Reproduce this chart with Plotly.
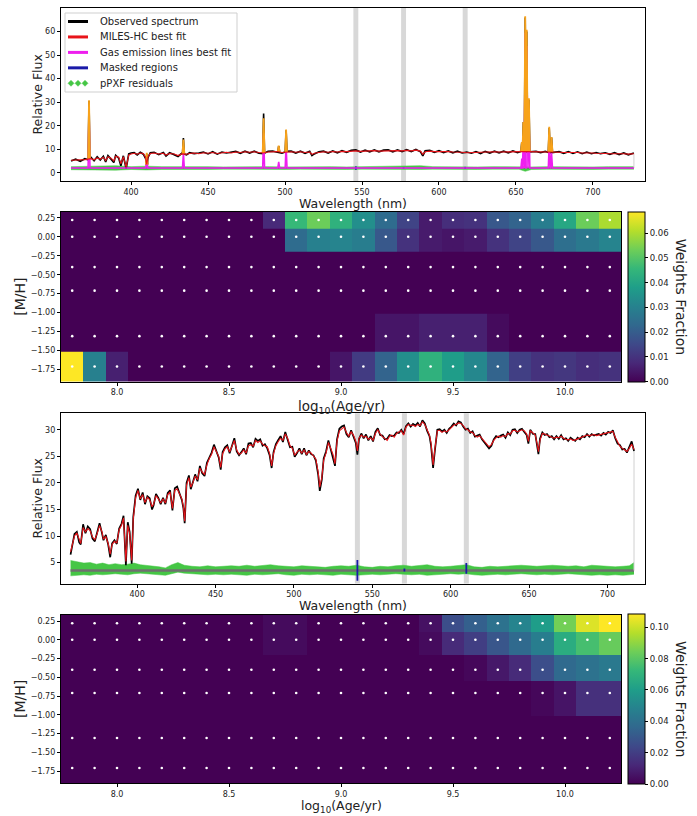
import plotly.graph_objects as go

W, H = 697, 816
FONT = "DejaVu Sans"

# ---------------- upper spectrum: emission-line galaxy ----------------
wl1 = [361, 364, 367, 370, 372, 374, 376, 378, 380, 382,
       383.5, 385, 387, 388.8, 390, 392, 393.4, 395, 396.8, 398.5,
       400, 402, 404, 406, 408, 409.5, 410.2, 411, 412.5, 415,
       418, 421, 422.7, 425, 428, 430.5, 433, 436, 438, 441,
       444, 447, 450, 453, 456, 459, 462, 465, 468, 471,
       474, 477, 480, 483, 486, 489, 492, 495, 498, 501,
       504, 507, 510, 513, 516, 517.5, 519, 522, 525, 528,
       531, 534, 537, 540, 543, 546, 549, 552, 555, 558,
       561, 564, 567, 570, 573, 576, 579, 582, 585, 588,
       589.5, 591, 594, 597, 600, 603, 606, 609, 612, 615,
       618, 621, 624, 627, 630, 633, 636, 639, 642, 645,
       648, 651, 654, 657, 660, 663, 666, 669, 672, 675,
       678, 681, 684, 687, 690, 693, 696, 699, 702, 705,
       708, 711, 714, 717, 720, 723, 726.6]
fit1 = [5.3, 5.4, 5.2, 5.6, 5.8, 6.0, 5.5, 6.3, 5.8, 6.6,
        5.2, 6.8, 6.2, 5.0, 7.0, 6.6, 3.8, 6.8, 2.4, 7.6,
        8.0, 8.3, 7.9, 8.4, 8.2, 6.5, 3.5, 6.8, 8.2, 8.4,
        8.0, 8.3, 7.5, 8.2, 8.0, 7.3, 8.0, 7.9, 8.2, 8.4,
        8.1, 8.5, 8.3, 8.6, 8.2, 8.5, 8.7, 8.4, 8.8, 8.6,
        8.9, 8.7, 8.9, 8.6, 8.4, 8.8, 8.9, 9.0, 8.6, 8.8,
        8.9, 8.7, 8.9, 8.6, 8.8, 7.8, 8.3, 8.6, 8.9, 8.7,
        9.0, 8.8, 9.1, 9.0, 9.2, 9.3, 9.1, 9.3, 9.2, 9.4,
        9.2, 9.3, 9.4, 9.2, 9.4, 9.3, 9.5, 9.3, 9.6, 9.2,
        7.8, 8.9, 9.2, 9.0, 9.1, 8.9, 9.0, 8.8, 8.9, 8.7,
        8.5, 8.6, 8.7, 8.5, 8.8, 8.7, 8.9, 8.8, 8.9, 8.8,
        9.0, 8.9, 9.0, 9.0, 9.0, 8.8, 8.9, 8.8, 8.8, 8.9,
        8.7, 8.6, 8.7, 8.5, 8.6, 8.4, 8.5, 8.4, 8.3, 8.4,
        8.2, 8.1, 8.2, 8.0, 8.1, 7.9, 8.1]
obs1 = [5.0, 5.8, 4.9, 6.0, 5.5, 6.5, 5.1, 6.8, 5.4, 7.0,
        4.6, 7.3, 5.8, 4.4, 7.4, 6.2, 3.0, 7.2, 1.8, 8.0,
        8.4, 8.6, 7.6, 8.7, 7.9, 6.0, 3.0, 6.5, 8.5, 8.7,
        7.7, 8.6, 7.1, 8.5, 7.7, 6.9, 8.3, 7.6, 8.5, 8.1,
        8.4, 8.8, 8.0, 8.9, 7.9, 8.8, 8.4, 8.7, 9.1, 8.3,
        9.2, 8.4, 9.2, 8.3, 8.1, 9.1, 9.2, 8.7, 8.3, 9.1,
        9.2, 8.4, 9.2, 8.3, 9.1, 7.3, 8.0, 8.9, 9.2, 8.4,
        9.3, 8.5, 9.4, 8.7, 9.5, 9.7, 8.8, 9.6, 8.9, 9.7,
        8.9, 9.6, 9.7, 8.9, 9.7, 9.0, 9.8, 9.0, 9.9, 8.9,
        7.2, 9.3, 9.5, 8.7, 9.4, 8.6, 9.3, 8.5, 9.2, 8.4,
        8.8, 8.3, 9.0, 8.2, 9.1, 8.4, 9.2, 8.5, 9.2, 8.5,
        9.3, 8.6, 9.3, 8.8, 8.8, 9.1, 8.6, 9.1, 8.5, 8.6,
        9.0, 8.3, 9.0, 8.2, 8.9, 8.1, 8.8, 8.1, 8.6, 8.1,
        8.5, 7.8, 8.5, 7.7, 8.4, 7.6, 8.4]

# emission lines: centre (nm), stellar level under the line, gas flux, observed peak
line1_wl = [372.7, 410.2, 434.0, 486.1, 495.9, 500.7,
            653.8, 654.8, 656.0, 657.0, 658.4, 671.6, 673.1]
line1_cont = [5.8, 3.5, 8.0, 8.4, 8.9, 8.8,
              9.0, 9.0, 9.0, 9.0, 9.0, 8.8, 8.8]
line1_gas = [25.0, 5.0, 6.1, 14.8, 2.6, 9.6,
             4.0, 12.6, 57.5, 51.8, 22.6, 10.7, 6.4]
line1_obs = [30.5, 8.0, 14.8, 25.2, 11.3, 18.0,
             13.0, 21.6, 66.0, 60.0, 31.0, 19.0, 15.0]

res1_base = 2.0
res1_wl = [361, 370, 380, 390, 400, 410, 420, 430, 440, 450,
           460, 470, 480, 490, 500, 510, 520, 530, 540, 550,
           560, 570, 580, 588, 596, 605, 615, 625, 635, 645,
           652, 656, 660, 670, 680, 690, 700, 710, 720, 726.6]
res1_hi = [2.6, 2.7, 3.1, 3.0, 2.6, 2.8, 2.6, 2.7, 2.5, 2.6,
           2.5, 2.6, 2.5, 2.6, 2.5, 2.6, 2.5, 2.6, 2.5, 2.6,
           2.5, 2.6, 2.7, 3.0, 2.6, 2.5, 2.6, 2.5, 2.6, 2.5,
           2.6, 2.7, 2.5, 2.6, 2.5, 2.6, 2.5, 2.6, 2.5, 2.6]
res1_lo = [1.3, 1.2, 1.0, 1.1, 1.4, 1.2, 1.4, 1.3, 1.5, 1.4,
           1.5, 1.4, 1.5, 1.3, 1.4, 1.5, 1.4, 1.5, 1.4, 1.5,
           1.4, 1.5, 1.4, 1.4, 1.5, 1.4, 1.5, 1.4, 1.5, 1.4,
           1.5, 0.6, 1.4, 1.5, 1.4, 1.5, 1.4, 1.5, 1.4, 1.5]

mask1_wl = [546.0, 577.0, 617.0]
mask1_lo = [1.3, 1.7, 1.6]
mask1_hi = [2.7, 2.4, 2.5]

# ---------------- lower spectrum: old stellar population ----------------
wl3 = [357.5, 358.5, 360, 361.5, 363, 364, 365.5, 367, 368.5, 370,
       371.5, 373, 374.5, 376, 377.5, 378.5, 380, 381.5, 382.8, 384,
       385.5, 387, 388.5, 390, 391.3, 392.8, 394, 395.2, 396.5, 397.5,
       399, 400.5, 402, 403.5, 405, 406.5, 408, 409.5, 410.5, 412,
       413.5, 415, 416.5, 418, 419.5, 421, 422.5, 424, 425.5, 427,
       428.5, 429.5, 430.3, 431.5, 433, 434.2, 435.5, 437, 438.5, 440,
       441.5, 443, 444.5, 446, 447.5, 449, 450.5, 452, 453.3, 454.5,
       456, 457.5, 459, 460.5, 462, 463.5, 465, 466.5, 468, 469.5,
       471, 472.5, 474, 475.5, 477, 478.5, 480, 481.5, 483, 484.5,
       485.8, 487, 488.5, 490, 491.5, 493, 494.5, 496, 497.5, 499,
       500.5, 502, 503.5, 505, 506.5, 508, 509.5, 511, 512.5, 514,
       515.5, 516.5, 517.8, 519, 520.5, 522, 523.5, 525, 526.2, 527.5,
       529, 530.5, 532, 533.5, 535, 536.5, 538, 539.5, 540.5, 541.5,
       543, 544.5, 546, 547.5, 549, 550.5, 552, 553.5, 555, 556.5,
       558, 559.5, 561, 562.5, 564, 565.5, 567, 568.5, 570, 571.5,
       573, 574.5, 576, 577.5, 579, 580.5, 582, 583.5, 585, 586.5,
       587.5, 588.8, 590, 591.5, 593, 594.5, 596, 597.5, 599, 600.5,
       602, 603.5, 605, 606.5, 608, 609.5, 611, 612.5, 614, 615.5,
       617, 618.5, 620, 621.5, 623, 624.5, 626, 627.5, 629, 630.5,
       632, 633.5, 635, 636.5, 638, 639.5, 641, 642.5, 644, 645.5,
       647, 648.5, 649.6, 650.8, 652.5, 654, 655, 656, 657, 658.5,
       660, 661.5, 663, 664.5, 666, 667.5, 669, 670.5, 672, 673.5,
       675, 676.5, 678, 679.5, 681, 682.5, 684, 685.5, 687, 688.5,
       690, 691.5, 693, 694.5, 696, 697.5, 699, 700.5, 702, 703.5,
       705, 706.5, 708, 709.5, 711, 712.5, 714, 715.5, 717]
fit3 = [7.0, 8.2, 10.0, 10.6, 9.2, 8.6, 11.6, 10.8, 11.4, 11.0,
        9.8, 9.3, 10.5, 12.0, 10.8, 9.4, 9.9, 8.6, 6.6, 8.4,
        9.0, 8.7, 11.2, 12.0, 13.4, 5.2, 12.0, 10.5, 5.4, 13.2,
        17.2, 18.6, 17.0, 17.8, 16.3, 17.3, 16.8, 15.5, 16.0, 17.6,
        17.0, 16.2, 17.0, 16.2, 17.8, 18.3, 15.2, 18.6, 18.9, 18.0,
        17.0, 15.5, 12.8, 19.6, 21.0, 19.2, 20.0, 21.3, 20.6, 22.8,
        22.0, 21.6, 23.4, 24.6, 25.4, 26.8, 26.0, 25.0, 22.9, 25.5,
        26.4, 26.8, 25.8, 26.8, 28.0, 26.2, 25.4, 25.6, 26.2, 25.6,
        27.0, 27.2, 26.9, 28.0, 27.6, 27.9, 27.3, 27.0, 26.8, 25.5,
        23.2, 25.5, 27.0, 27.8, 28.4, 28.0, 29.2, 28.4, 27.0, 26.5,
        25.2, 25.8, 26.2, 25.6, 26.2, 25.4, 25.9, 25.6, 25.0, 24.5,
        22.0, 19.2, 21.0, 24.3, 25.6, 27.6, 26.5, 25.3, 23.6, 27.8,
        29.8, 30.2, 30.5, 29.5, 28.8, 29.6, 29.0, 27.8, 26.0, 28.4,
        29.0, 28.6, 28.8, 28.2, 28.5, 28.0, 29.3, 30.0, 29.2, 28.7,
        28.4, 28.0, 28.8, 29.0, 28.6, 29.3, 29.6, 29.8, 29.0, 30.5,
        31.0, 30.8, 30.9, 30.6, 31.0, 30.8, 31.5, 31.0, 30.0, 29.0,
        27.5, 23.4, 26.5, 29.8, 29.9, 29.5, 29.8, 29.6, 30.0, 30.4,
        30.9, 31.0, 31.3, 31.2, 30.8, 30.2, 30.0, 29.6, 29.5, 28.9,
        28.6, 28.9, 28.4, 27.8, 27.3, 26.8, 27.2, 28.0, 28.5, 28.8,
        28.6, 28.9, 28.7, 29.3, 29.2, 29.8, 29.9, 29.6, 29.8, 30.0,
        29.8, 29.2, 27.8, 29.8, 29.4, 29.0, 27.6, 25.9, 28.0, 29.3,
        29.2, 29.0, 28.8, 28.6, 28.4, 28.6, 28.5, 28.8, 28.4, 28.2,
        28.1, 28.3, 28.0, 28.1, 28.3, 28.4, 28.6, 28.8, 29.0, 28.9,
        29.0, 29.1, 28.9, 29.0, 29.1, 29.2, 29.3, 29.4, 29.6, 29.7,
        28.6, 27.6, 26.9, 26.5, 26.2, 25.9, 26.5, 27.3, 26.3]
obs3 = [6.5, 8.0, 10.4, 10.8, 8.8, 8.4, 12.2, 10.5, 11.8, 11.3,
        9.5, 9.0, 10.8, 12.4, 10.6, 9.2, 10.2, 8.4, 6.0, 8.6,
        9.2, 8.5, 11.4, 12.3, 13.8, 4.5, 12.6, 10.8, 4.8, 13.6,
        17.6, 18.9, 16.8, 18.2, 16.0, 17.5, 17.1, 15.0, 15.8, 17.9,
        17.2, 16.0, 17.2, 16.0, 18.1, 18.6, 14.8, 19.0, 19.3, 18.2,
        16.8, 15.2, 12.4, 20.0, 21.4, 18.8, 20.2, 21.6, 20.3, 23.2,
        21.8, 21.3, 23.8, 24.9, 25.7, 27.2, 25.8, 24.8, 22.5, 25.8,
        26.7, 27.1, 25.6, 27.0, 28.4, 25.9, 25.2, 25.8, 26.5, 25.4,
        27.4, 27.5, 26.7, 28.3, 27.9, 28.2, 27.0, 27.3, 26.5, 25.2,
        22.8, 25.8, 27.3, 28.1, 28.8, 27.7, 29.6, 28.1, 26.7, 26.8,
        24.9, 25.6, 26.5, 25.4, 26.5, 25.2, 26.1, 25.4, 25.2, 24.2,
        21.5, 18.5, 20.6, 24.6, 25.9, 28.0, 26.3, 25.0, 23.2, 28.2,
        30.2, 30.6, 30.8, 29.2, 28.6, 29.9, 28.8, 27.5, 25.3, 28.2,
        29.3, 28.4, 29.1, 28.0, 28.8, 27.8, 29.6, 30.3, 29.0, 28.9,
        28.2, 28.3, 29.0, 28.8, 28.9, 29.5, 29.4, 30.0, 29.2, 30.7,
        31.2, 30.6, 31.1, 30.8, 31.3, 30.6, 31.8, 31.2, 29.8, 28.8,
        27.0, 22.8, 26.2, 30.0, 30.1, 29.7, 30.0, 29.4, 30.2, 30.6,
        31.2, 30.8, 31.6, 31.4, 30.6, 30.0, 30.2, 29.4, 29.7, 28.7,
        28.9, 29.1, 28.2, 27.6, 27.1, 26.5, 27.0, 28.2, 28.8, 28.6,
        28.9, 29.1, 28.5, 29.5, 29.0, 30.0, 30.1, 29.4, 30.0, 30.2,
        29.6, 29.0, 27.4, 30.0, 29.2, 29.2, 27.3, 25.4, 28.3, 29.5,
        29.0, 29.2, 28.6, 28.8, 28.2, 28.8, 28.3, 29.0, 28.2, 28.4,
        27.9, 28.5, 28.2, 27.9, 28.5, 28.2, 28.8, 28.6, 29.2, 28.7,
        29.2, 28.9, 29.1, 29.2, 28.9, 29.4, 29.1, 29.6, 29.4, 29.9,
        28.4, 27.4, 27.1, 26.3, 26.4, 25.7, 26.8, 27.8, 26.0]

res3_base = 3.5
res3_wl = [357.5, 362, 366, 370, 374, 378, 382, 386, 390, 394,
           398, 402, 406, 410, 414, 418, 422, 426, 430, 435,
           440, 445, 450, 455, 460, 465, 470, 475, 480, 485,
           490, 495, 500, 505, 510, 515, 520, 525, 530, 535,
           540, 545, 550, 555, 560, 565, 570, 575, 580, 585,
           590, 595, 600, 605, 610, 615, 620, 625, 630, 635,
           640, 645, 650, 655, 660, 665, 670, 675, 680, 685,
           690, 695, 700, 705, 710, 714, 717]
res3_hi = [5.4, 5.2, 4.9, 5.0, 4.7, 4.9, 4.6, 4.8, 4.6, 4.7,
           4.9, 4.6, 4.5, 4.4, 4.2, 4.0, 4.6, 5.0, 4.5, 4.3,
           4.2, 4.4, 4.2, 4.3, 4.4, 4.3, 4.5, 4.3, 4.4, 4.6,
           4.4, 4.3, 4.2, 4.4, 4.3, 4.2, 4.1, 4.3, 4.4, 4.3,
           4.5, 4.2, 4.1, 4.3, 4.2, 4.4, 4.5, 4.3, 4.4, 4.6,
           4.3, 4.2, 4.3, 4.4, 4.6, 4.2, 4.1, 4.3, 4.2, 4.3,
           4.4, 4.5, 4.4, 4.3, 4.4, 4.5, 4.4, 4.3, 4.4, 4.2,
           4.5, 4.4, 4.3, 4.2, 4.3, 4.4, 5.0]
res3_lo = [2.5, 2.6, 2.7, 2.6, 2.8, 2.7, 2.8, 2.9, 2.8, 2.7,
           2.9, 3.0, 2.9, 2.8, 2.7, 2.6, 2.9, 3.2, 3.0, 2.9,
           2.8, 2.7, 2.8, 2.7, 2.8, 2.7, 2.6, 2.8, 2.7, 2.8,
           2.9, 2.7, 2.6, 2.8, 2.7, 2.8, 2.7, 2.6, 2.8, 2.7,
           2.6, 2.7, 2.8, 2.7, 2.8, 2.9, 2.8, 2.7, 2.8, 2.6,
           2.7, 2.8, 2.9, 2.8, 2.9, 2.7, 2.6, 2.7, 2.8, 2.7,
           2.8, 2.9, 2.8, 2.7, 2.8, 2.7, 2.8, 2.9, 2.8, 2.7,
           2.6, 2.7, 2.6, 2.7, 2.6, 2.7, 2.8]

mask3_wl = [540.5, 570.5, 610.0]
mask3_lo = [1.6, 3.3, 2.9]
mask3_hi = [5.5, 3.9, 4.9]

band1_wl = [546.0, 577.0, 617.0]
band3_wl = [540.5, 570.5, 610.0]
band_width = 3.2

# ---------------- weight maps ----------------
ages = [7.8, 7.9, 8.0, 8.1, 8.2, 8.3, 8.4, 8.5, 8.6, 8.7, 8.8, 8.9, 9.0,
        9.1, 9.2, 9.3, 9.4, 9.5, 9.6, 9.7, 9.8, 9.9, 10.0, 10.1, 10.2]
metals = [0.22, 0.0, -0.40, -0.71, -1.31, -1.71]

weights1 = [
    [0, 0, 0, 0, 0, 0, 0, 0, 0, 0.008, 0.046, 0.053, 0.044,
     0.034, 0.024, 0.014, 0.005, 0.009, 0.010, 0.019, 0.022, 0.029, 0.041, 0.053, 0.060],
    [0, 0, 0, 0, 0, 0, 0, 0, 0, 0, 0.024, 0.030, 0.031,
     0.029, 0.019, 0.010, 0.005, 0.004, 0.005, 0.010, 0.014, 0.019, 0.025, 0.028, 0.031],
    [0] * 25,
    [0] * 25,
    [0, 0, 0, 0, 0, 0, 0, 0, 0, 0, 0, 0, 0,
     0, 0.004, 0.004, 0.006, 0.006, 0.006, 0.002, 0, 0, 0, 0, 0],
    [0.0687, 0.030, 0.006, 0, 0, 0, 0, 0, 0, 0, 0, 0, 0.004,
     0.012, 0.022, 0.034, 0.044, 0.038, 0.032, 0.022, 0.013, 0.010, 0.011, 0.009, 0.010],
]
weights2 = [
    [0, 0, 0, 0, 0, 0, 0, 0, 0, 0.003, 0.003, 0, 0,
     0, 0, 0, 0.005, 0.026, 0.033, 0.041, 0.049, 0.060, 0.085, 0.103, 0.1085],
    [0, 0, 0, 0, 0, 0, 0, 0, 0, 0.003, 0.003, 0, 0,
     0, 0, 0, 0.003, 0.013, 0.020, 0.029, 0.037, 0.046, 0.067, 0.076, 0.083],
    [0, 0, 0, 0, 0, 0, 0, 0, 0, 0, 0, 0, 0,
     0, 0, 0, 0, 0, 0.002, 0.007, 0.013, 0.026, 0.037, 0.041, 0.044],
    [0, 0, 0, 0, 0, 0, 0, 0, 0, 0, 0, 0, 0,
     0, 0, 0, 0, 0, 0, 0, 0, 0.002, 0.006, 0.015, 0.015],
    [0] * 25,
    [0] * 25,
]

wl_ticks = [400, 450, 500, 550, 600, 650, 700]
flux1_ticks = [0, 10, 20, 30, 40, 50, 60]
flux3_ticks = [5, 10, 15, 20, 25, 30]
age_ticks = [8.0, 8.5, 9.0, 9.5, 10.0]
age_ticktext = ["8.0", "8.5", "9.0", "9.5", "10.0"]
mh_ticks = [0.25, 0.0, -0.25, -0.5, -0.75, -1.0, -1.25, -1.5, -1.75]
mh_ticktext = ["0.25", "0.00", "\u22120.25", "\u22120.50", "\u22120.75",
               "\u22121.00", "\u22121.25", "\u22121.50", "\u22121.75"]
cb1_ticks = [0.0, 0.01, 0.02, 0.03, 0.04, 0.05, 0.06]
cb2_ticks = [0.0, 0.02, 0.04, 0.06, 0.08, 0.10]

# colours
C_OBS = "black"
C_FIT = "#e8141a"
C_TOT = "#f7a21b"
C_GAS = "#ee1fee"
C_MASK = "#1a1aa8"
C_RES = "#45c645"
C_BASE = "#6f6f6f"
C_BAND = "#d8d8d8"


def px_x(p):
    return p / W


def px_y(p):
    return 1 - p / H


def spikes(centres, bases, tops, half=0.6):
    xs, ys = [], []
    for c, b, t in zip(centres, bases, tops):
        xs += [c - half, c, c + half, None]
        ys += [b, t, b, None]
    return xs, ys


def segments(xpos, lo, hi):
    xs, ys = [], []
    for c, a, b in zip(xpos, lo, hi):
        xs += [c, c, None]
        ys += [a, b, None]
    return xs, ys


fig = go.Figure()


def add_spectrum(xa, ya, wl, fit, obs, res_wl, res_lo, res_hi, base,
                 mask_wl, mask_lo, mask_hi, lines=None):
    # residual band and baseline
    fig.add_trace(go.Scatter(x=res_wl, y=res_lo, mode="lines", line=dict(color=C_RES, width=0.5),
                             xaxis=xa, yaxis=ya, hoverinfo="skip"))
    fig.add_trace(go.Scatter(x=res_wl, y=res_hi, mode="lines", line=dict(color=C_RES, width=0.5),
                             fill="tonexty", fillcolor=C_RES, xaxis=xa, yaxis=ya, hoverinfo="skip"))
    fig.add_trace(go.Scatter(x=[wl[0], wl[-1]], y=[base, base], mode="lines",
                             line=dict(color=C_BASE, width=2.4 if base > 3 else 1.0),
                             xaxis=xa, yaxis=ya, hoverinfo="skip"))
    mx, my = segments(mask_wl, mask_lo, mask_hi)
    fig.add_trace(go.Scatter(x=mx, y=my, mode="lines", line=dict(color=C_MASK, width=1.8),
                             xaxis=xa, yaxis=ya, hoverinfo="skip"))
    # thin marker at the end of the fitted range
    fig.add_trace(go.Scatter(x=[wl[-1], wl[-1]], y=[base, fit[-1]], mode="lines",
                             line=dict(color="#d0d0d0", width=1), xaxis=xa, yaxis=ya,
                             hoverinfo="skip"))
    # observed spectrum
    fig.add_trace(go.Scatter(x=wl, y=obs, mode="lines", line=dict(color=C_OBS, width=1.7),
                             xaxis=xa, yaxis=ya, hoverinfo="skip"))
    if lines is not None:
        lwl, lcont, lgas, lobs = lines
        ox, oy = spikes(lwl, lcont, lobs)
        fig.add_trace(go.Scatter(x=ox, y=oy, mode="lines", line=dict(color=C_OBS, width=1.6),
                                 xaxis=xa, yaxis=ya, hoverinfo="skip"))
        gx, gy = [wl[0]], [base]
        for c, g in zip(lwl, lgas):
            gx += [c - 0.6, c, c + 0.6]
            gy += [base, base + g, base]
        gx.append(wl[-1])
        gy.append(base)
        fig.add_trace(go.Scatter(x=gx, y=gy, mode="lines", line=dict(color=C_GAS, width=1.6),
                                 xaxis=xa, yaxis=ya, hoverinfo="skip"))
        tops = [c + g for c, g in zip(lcont, lgas)]
        tx, ty = spikes(lwl, lcont, tops)
        fig.add_trace(go.Scatter(x=tx, y=ty, mode="lines", line=dict(color=C_TOT, width=1.8),
                                 xaxis=xa, yaxis=ya, hoverinfo="skip"))
    # stellar best fit
    fig.add_trace(go.Scatter(x=wl, y=fit, mode="lines", line=dict(color=C_FIT, width=1.1),
                             xaxis=xa, yaxis=ya, hoverinfo="skip"))


add_spectrum("x", "y", wl1, fit1, obs1, res1_wl, res1_lo, res1_hi, res1_base,
             mask1_wl, mask1_lo, mask1_hi,
             lines=(line1_wl, line1_cont, line1_gas, line1_obs))
add_spectrum("x3", "y3", wl3, fit3, obs3, res3_wl, res3_lo, res3_hi, res3_base,
             mask3_wl, mask3_lo, mask3_hi)


def add_weights(xa, ya, z, zmax, cb_ticks, cb_center_px):
    fig.add_trace(go.Heatmap(
        x=ages, y=metals, z=z, zmin=0, zmax=zmax, colorscale="Viridis",
        xaxis=xa, yaxis=ya, hoverinfo="skip",
        colorbar=dict(
            x=px_x(628), xanchor="left", xpad=0,
            y=px_y(cb_center_px), yanchor="middle", ypad=0,
            len=170 / H, lenmode="fraction", thickness=17, thicknessmode="pixels",
            outlinecolor="black", outlinewidth=1,
            tickvals=cb_ticks, ticktext=["%.2f" % v for v in cb_ticks],
            ticks="outside", ticklen=3, tickcolor="black",
            tickfont=dict(family=FONT, size=8.5, color="#222"),
        ),
    ))
    dx = [a for m in metals for a in ages]
    dy = [m for m in metals for a in ages]
    fig.add_trace(go.Scatter(x=dx, y=dy, mode="markers",
                             marker=dict(color="white", size=2.6, line=dict(width=0)),
                             xaxis=xa, yaxis=ya, hoverinfo="skip"))


add_weights("x2", "y2", weights1, 0.0687, cb1_ticks, 296.7)
add_weights("x4", "y4", weights2, 0.1085, cb2_ticks, 699.0)

axis_common = dict(showline=True, mirror=True, linecolor="black", linewidth=1.2,
                   ticks="outside", ticklen=3, tickwidth=1, tickcolor="black",
                   showgrid=False, zeroline=False,
                   tickfont=dict(family=FONT, size=8, color="#222"))

spec_dom_x = [px_x(61), px_x(645)]
map_dom_x = [px_x(61), px_x(621)]

fig.update_layout(
    width=W, height=H, margin=dict(l=0, r=0, t=0, b=0),
    paper_bgcolor="white", plot_bgcolor="white", showlegend=False,
    font=dict(family=FONT, color="#222"),
    xaxis=dict(domain=spec_dom_x, range=[354.5, 733.8], tickvals=wl_ticks, anchor="y", **axis_common),
    yaxis=dict(domain=[px_y(181), px_y(8)], range=[-3.5, 70], tickvals=flux1_ticks, anchor="x", **axis_common),
    xaxis2=dict(domain=map_dom_x, range=[7.75, 10.25], tickvals=age_ticks, ticktext=age_ticktext,
                anchor="y2", **axis_common),
    yaxis2=dict(domain=[px_y(381.7), px_y(211.7)], range=[-1.91, 0.33], tickvals=mh_ticks,
                ticktext=mh_ticktext, anchor="x2", **axis_common),
    xaxis3=dict(domain=spec_dom_x, range=[351.4, 724.0], tickvals=wl_ticks, anchor="y3", **axis_common),
    yaxis3=dict(domain=[px_y(583.5), px_y(413.3)], range=[1.06, 33.1], tickvals=flux3_ticks,
                anchor="x3", **axis_common),
    xaxis4=dict(domain=map_dom_x, range=[7.75, 10.25], tickvals=age_ticks, ticktext=age_ticktext,
                anchor="y4", **axis_common),
    yaxis4=dict(domain=[px_y(783.0), px_y(615.0)], range=[-1.91, 0.33], tickvals=mh_ticks,
                ticktext=mh_ticktext, anchor="x4", **axis_common),
)

# masked wavelength bands
shapes = []
for xa, ya, bands in (("x", "y", band1_wl), ("x3", "y3", band3_wl)):
    for b in bands:
        shapes.append(dict(type="rect", xref=xa, yref=ya + " domain",
                           x0=b - band_width / 2, x1=b + band_width / 2, y0=0, y1=1,
                           fillcolor=C_BAND, line=dict(width=0), layer="below"))

# legend of the upper spectrum
shapes.append(dict(type="rect", xref="paper", yref="paper",
                   x0=px_x(65), x1=px_x(237), y0=px_y(92), y1=px_y(13),
                   fillcolor="rgba(255,255,255,0.9)", line=dict(color="#cfcfcf", width=1),
                   layer="above"))
legend_items = [("Observed spectrum", C_OBS), ("MILES-HC best fit", C_FIT),
                ("Gas emission lines best fit", C_GAS), ("Masked regions", C_MASK),
                ("pPXF residuals", C_RES)]
annotations = []
for i, (label, col) in enumerate(legend_items):
    yc = 21.5 + 15.45 * i
    if i < 4:
        shapes.append(dict(type="line", xref="paper", yref="paper",
                           x0=px_x(68), x1=px_x(88), y0=px_y(yc), y1=px_y(yc),
                           line=dict(color=col, width=3), layer="above"))
    else:
        for cx in (71, 78, 85):
            d = 3.0
            path = "M {} {} L {} {} L {} {} L {} {} Z".format(
                px_x(cx - d), px_y(yc), px_x(cx), px_y(yc - d),
                px_x(cx + d), px_y(yc), px_x(cx), px_y(yc + d))
            shapes.append(dict(type="path", xref="paper", yref="paper", path=path,
                               fillcolor=col, line=dict(color=col, width=0.5), layer="above"))
    annotations.append(dict(text=label, xref="paper", yref="paper", x=px_x(97.5), y=px_y(yc),
                            xanchor="left", yanchor="middle", showarrow=False,
                            font=dict(family=FONT, size=10, color="#222")))


# axis titles
def label(text, xp, yp, size, angle=0):
    annotations.append(dict(text=text, xref="paper", yref="paper", x=px_x(xp), y=px_y(yp),
                            xanchor="center", yanchor="middle", showarrow=False, textangle=angle,
                            borderpad=0, font=dict(family=FONT, size=size, color="#222")))


label("Wavelength (nm)", 353, 203.5, 12.5)
label("Relative Flux", 37, 94.5, 12.5, -90)
label("log<sub>10</sub>(Age/yr)", 341, 406.5, 13.5)
label("[M/H]", 20, 296.7, 14, -90)
label("Weights Fraction", 681, 296.7, 14, 90)
label("Wavelength (nm)", 353, 605.5, 12.5)
label("Relative Flux", 37, 498.4, 12.5, -90)
label("log<sub>10</sub>(Age/yr)", 341, 806.0, 12.5)
label("[M/H]", 20, 699.0, 14, -90)
label("Weights Fraction", 681, 699.0, 14, 90)

fig.update_layout(shapes=shapes, annotations=annotations)

fig.write_html("out.html")
